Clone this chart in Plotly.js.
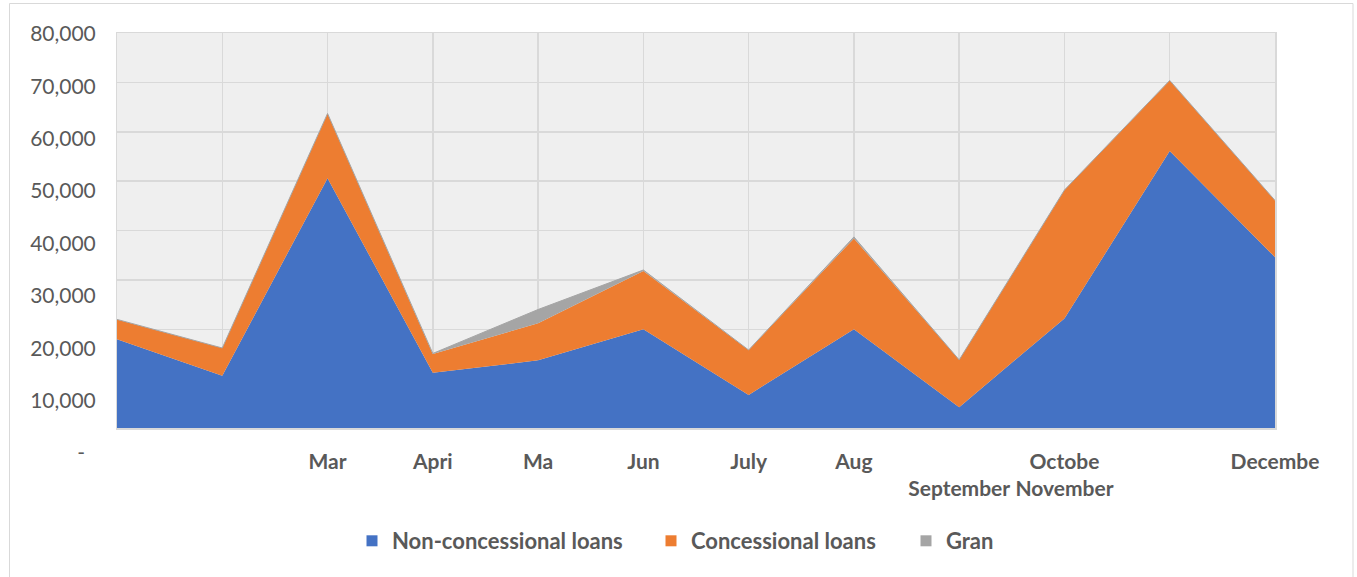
<!DOCTYPE html>
<html>
<head>
<meta charset="utf-8">
<script src="https://cdn.plot.ly/plotly-3.0.1.min.js"></script>
<style>
  html, body { margin: 0; padding: 0; background: #ffffff; }
  #chart { width: 1357px; height: 577px; }
</style>
</head>
<body>
<div id="chart"></div>
<script>
// ---- data ----
const months = ['Jan', 'Feb', 'Mar', 'Apr', 'May', 'Jun', 'Jul', 'Aug', 'Sep', 'Oct', 'Nov', 'Dec'];
const monthTickText = ['', '', 'Mar', 'Apri', 'Ma', 'Jun', 'July', 'Aug', '&nbsp;<br>September', 'Octobe<br>November', '', 'Decembe'];
const nonConcessional = [18000, 10600, 50600, 11200, 13700, 20000, 6700, 20000, 4200, 22200, 56100, 34600];
const concessional = [4000, 5600, 13100, 3800, 7500, 11800, 9100, 18400, 9600, 26000, 14300, 11500];
const grants = [0, 0, 0, 100, 2800, 200, 0, 300, 0, 0, 0, 0];
const seriesNames = ['Non-concessional loans', 'Concessional loans', 'Gran'];
const yTickVals = [0, 10000, 20000, 30000, 40000, 50000, 60000, 70000, 80000];
const yTickText = ['-\u00A0\u00A0', '10,000', '20,000', '30,000', '40,000', '50,000', '60,000', '70,000', '80,000'];

const colors = ['#4472C4', '#ED7D31', '#A5A5A5'];
const textColor = '#595959';
const gridColor = '#d9d9d9';
const plotBg = '#efefef';
const legendIds = ['legend', 'legend2', 'legend3'];

function areaTrace(name, values, color, lw) {
  return {
    type: 'scatter',
    mode: 'lines',
    name: name,
    x: months,
    y: values,
    stackgroup: 'one',
    fillcolor: color,
    line: { color: color, width: lw },
    showlegend: false,
    hoverinfo: 'x+y+name'
  };
}

// legend swatches (square keys like the original)
function keyTrace(i) {
  return {
    type: 'scatter',
    mode: 'markers',
    name: seriesNames[i],
    x: [null],
    y: [null],
    marker: { symbol: 'square', size: 11, color: colors[i] },
    legend: legendIds[i],
    showlegend: true,
    hoverinfo: 'skip'
  };
}

const data = [
  areaTrace(seriesNames[0], nonConcessional, colors[0], 0),
  areaTrace(seriesNames[1], concessional, colors[1], 0),
  areaTrace(seriesNames[2], grants, colors[2], 1),
  keyTrace(0), keyTrace(1), keyTrace(2),
  // carrier for the value-axis labels (empty)
  { type: 'scatter', mode: 'markers', x: [], y: [], xaxis: 'x2', yaxis: 'y2', showlegend: false, hoverinfo: 'skip' }
];

function legendAt(px) {
  return {
    orientation: 'h',
    x: (px - 117) / 1158, xanchor: 'left',
    y: (453 - 541) / 420, yanchor: 'middle',
    bgcolor: 'rgba(0,0,0,0)',
    borderwidth: 0,
    font: { size: 22, color: textColor, family: 'Lato, sans-serif', weight: 'bold' },
    itemwidth: 30
  };
}

const layout = {
  width: 1357,
  height: 577,
  margin: { l: 117, r: 82, t: 33, b: 124 },
  paper_bgcolor: '#ffffff',
  plot_bgcolor: 'rgba(0,0,0,0)',
  font: { family: 'Lato, "Open Sans", sans-serif', color: textColor },
  showlegend: true,
  legend: legendAt(352),
  legend2: legendAt(651),
  legend3: legendAt(906),
  xaxis: {
    type: 'category',
    categoryorder: 'array',
    categoryarray: months,
    range: [0, 11],
    tickmode: 'array',
    tickvals: months,
    ticktext: monthTickText,
    tickangle: 0,
    ticks: 'outside',
    ticklen: 14,
    tickcolor: 'rgba(0,0,0,0)',
    tickfont: { size: 21, color: textColor, family: 'Lato, sans-serif', weight: 'bold' },
    showgrid: true,
    gridcolor: gridColor,
    gridwidth: 1.5,
    showline: true,
    mirror: true,
    linecolor: gridColor,
    linewidth: 1.5,
    zeroline: false,
    fixedrange: true
  },
  yaxis: {
    domain: [25 / 420, 1],
    range: [0, 80000],
    tickmode: 'array',
    tickvals: yTickVals,
    showticklabels: false,
    showgrid: true,
    gridcolor: gridColor,
    gridwidth: 1.5,
    showline: true,
    mirror: true,
    linecolor: gridColor,
    linewidth: 1.5,
    zeroline: false,
    fixedrange: true
  },
  xaxis2: {
    domain: [0, 0.0005],
    anchor: 'y2',
    visible: false,
    range: [0, 1],
    fixedrange: true
  },
  yaxis2: {
    domain: [0, 419 / 420],
    anchor: 'x2',
    side: 'left',
    range: [0, 80000],
    tickmode: 'array',
    tickvals: yTickVals,
    ticktext: yTickText,
    ticks: 'outside',
    ticklen: 16,
    tickcolor: 'rgba(0,0,0,0)',
    tickfont: { size: 21, color: textColor, family: 'Lato, sans-serif' },
    showgrid: false,
    showline: false,
    zeroline: false,
    fixedrange: true
  },
  shapes: [
    {
      type: 'rect',
      xref: 'x domain', yref: 'y domain',
      x0: 0, x1: 1, y0: 0, y1: 1,
      line: { width: 0 },
      fillcolor: plotBg,
      layer: 'below'
    },
    {
      type: 'rect',
      xref: 'paper', yref: 'paper',
      x0: (9.5 - 117) / 1158, x1: (1353 - 117) / 1158,
      y0: (453 - 600) / 420, y1: (453 - 3.5) / 420,
      line: { color: gridColor, width: 1 },
      fillcolor: 'rgba(0,0,0,0)',
      layer: 'below'
    }
  ]
};

Plotly.newPlot('chart', data, layout, { displayModeBar: false, staticPlot: true });
</script>
</body>
</html>
